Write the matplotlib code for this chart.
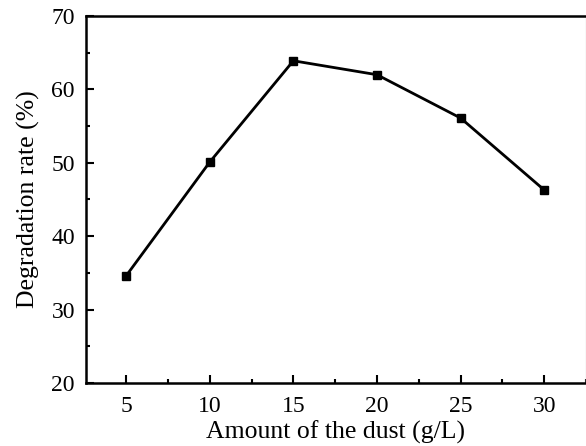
import matplotlib.pyplot as plt
from matplotlib.ticker import MultipleLocator

# данні з графіка
dust_amount = [5, 10, 15, 20, 25, 30]
degradation_rate = [34.6, 50.1, 63.9, 62.0, 56.1, 46.3]

plt.rcParams['font.family'] = ['Liberation Serif', 'DejaVu Serif']

fig = plt.figure(figsize=(5.86, 4.46), dpi=100)
ax = fig.add_axes([86 / 586, 63 / 446, 500 / 586, 367 / 446])

ax.plot(dust_amount, degradation_rate, color='black', linewidth=2,
        marker='s', markersize=5.5)

ax.set_xlim(2.6, 32.5)
ax.set_ylim(20, 70)
ax.xaxis.set_major_locator(MultipleLocator(5))
ax.xaxis.set_minor_locator(MultipleLocator(2.5))
ax.yaxis.set_major_locator(MultipleLocator(10))
ax.yaxis.set_minor_locator(MultipleLocator(5))
ax.tick_params(which='both', direction='in', width=1.5, labelsize=17,
               top=False, right=False)
ax.tick_params(which='major', length=6)
ax.tick_params(which='minor', length=3)
ax.tick_params(axis='x', pad=9)
ax.tick_params(axis='y', pad=8)

for side in ['left', 'bottom', 'top']:
    ax.spines[side].set_linewidth(1.8)
ax.spines['right'].set_color('#dddddd')
ax.spines['right'].set_linewidth(1)

ax.set_xlabel('Amount of the dust (g/L)', fontsize=18.5, labelpad=3)
ax.set_ylabel('Degradation rate (%)', fontsize=18.5, labelpad=8)

fig.savefig('out.png', dpi=100)
